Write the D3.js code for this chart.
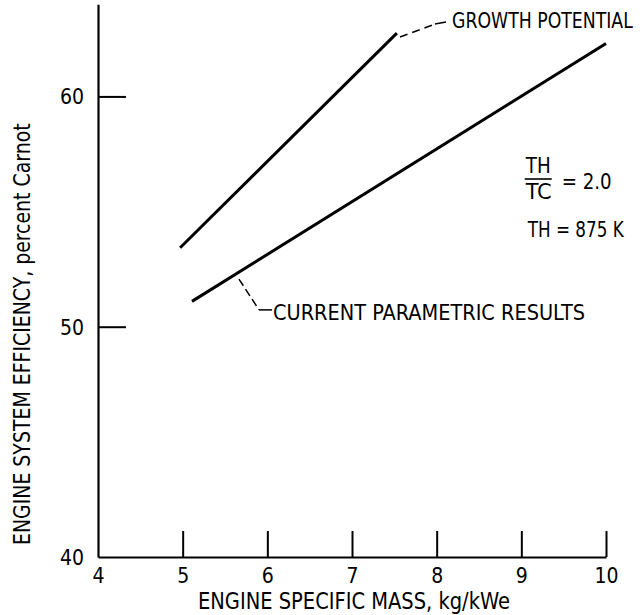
<!DOCTYPE html>
<html>
<head>
<meta charset="utf-8">
<script src="https://cdn.jsdelivr.net/npm/d3@7"></script>
<style>
  html, body { margin: 0; padding: 0; background: #fff; }
  svg { display: block; }
  text { font-family: "Liberation Sans Narrow", "DejaVu Sans Condensed", "Arial Narrow", sans-serif; fill: #000; }
</style>
</head>
<body>
<svg id="chart" width="640" height="615"></svg>
<script>
// ---- data ----
const xTicks = [4, 5, 6, 7, 8, 9, 10];
const yTicks = [40, 50, 60];
const growthMass = [4.97, 7.53];
const growthEff = [53.43, 62.75];
const currentMass = [5.11, 10.0];
const currentEff = [51.1, 62.3];
const xTitle = "ENGINE SPECIFIC MASS, kg/kWe";
const yTitle = "ENGINE SYSTEM EFFICIENCY, percent Carnot";
const growthLabel = "GROWTH POTENTIAL";
const currentLabel = "CURRENT PARAMETRIC RESULTS";

// ---- scales ----
const svg = d3.select("#chart");
const sx = d3.scaleLinear().domain([4, 10]).range([98, 606]);
const sy = d3.scaleLinear().domain([40, 64]).range([557, 4.3]);

// ---- axes ----
const xAxis = d3.axisBottom(sx).tickValues(xTicks).tickSize(-26).tickSizeOuter(0).tickPadding(11).tickFormat(d3.format("d"));
const yAxis = d3.axisLeft(sy).tickValues(yTicks).tickSize(-28).tickSizeOuter(0).tickPadding(14).tickFormat(d3.format("d"));

const gx = svg.append("g").attr("transform", `translate(0,${sy(40)})`).call(xAxis);
const gy = svg.append("g").attr("transform", `translate(${sx(4)},0)`).call(yAxis);
[gx, gy].forEach(g => {
  g.select(".domain").attr("stroke", "#000").attr("stroke-width", 2.2);
  g.selectAll(".tick line").attr("stroke", "#000").attr("stroke-width", 2);
  g.selectAll(".tick text").attr("font-size", 21).attr("font-family", null).attr("fill", "#000");
});
gy.selectAll(".tick text").attr("dy", "0.36em");
gy.selectAll(".tick").filter(d => d === 40).select("line").remove();
gx.selectAll(".tick").filter(d => d === 4).select("line").remove();

// horizontally squeezed text helper: fits natural width into target width
function fitText(parent, str, x, y, size, width) {
  const g = parent.append("g").attr("transform", `translate(${x},${y})`);
  const t = g.append("text").attr("x", 0).attr("y", 0).attr("font-size", size).text(str);
  const w = t.node().getComputedTextLength();
  t.attr("transform", `scale(${width / w},1)`);
  return g;
}

// axis titles
fitText(svg, xTitle, 198, 609, 23, 312);
const yt = svg.append("g").attr("transform", "translate(30,545) rotate(-90)");
fitText(yt, yTitle, 0, 0, 23, 422);

// ---- curves ----
const line = d3.line().x(d => sx(d[0])).y(d => sy(d[1]));
const growth = d3.zip(growthMass, growthEff);
const current = d3.zip(currentMass, currentEff);
[growth, current].forEach(pts => {
  svg.append("path").datum(pts)
    .attr("d", line)
    .attr("fill", "none").attr("stroke", "#000").attr("stroke-width", 3);
});

// ---- annotations (anchored in data units) ----
const gLeadDash = [[7.567, 62.58], [7.98, 63.14]];
const gLeadSolid = [[7.98, 63.14], [8.11, 63.23]];
svg.append("path").datum(gLeadDash).attr("d", line)
  .attr("fill", "none").attr("stroke", "#000").attr("stroke-width", 1.5).attr("stroke-dasharray", "8,5");
svg.append("path").datum(gLeadSolid).attr("d", line)
  .attr("fill", "none").attr("stroke", "#000").attr("stroke-width", 1.5);
fitText(svg, growthLabel, sx(8.181), sy(62.97), 21, 181);

const cLeadDash = [[5.665, 52.07], [5.902, 50.73]];
const cLeadSolid = [[5.902, 50.73], [6.055, 50.73]];
svg.append("path").datum(cLeadDash).attr("d", line)
  .attr("fill", "none").attr("stroke", "#000").attr("stroke-width", 1.5).attr("stroke-dasharray", "8,4");
svg.append("path").datum(cLeadSolid).attr("d", line)
  .attr("fill", "none").attr("stroke", "#000").attr("stroke-width", 1.5);
fitText(svg, currentLabel, sx(6.067), sy(50.29), 22, 312);

// TH/TC = 2.0 block
const ax = sx(9.04), ay = sy(58.5);   // anchor
const blk = svg.append("g").attr("transform", `translate(${ax},${ay})`);
const by = 179 - ay; // fraction bar offset relative to anchor
fitText(blk, "TH", 1, by - 6, 22, 25);
blk.append("line").attr("x1", 0).attr("x2", 27).attr("y1", by).attr("y2", by)
  .attr("stroke", "#000").attr("stroke-width", 1.6);
fitText(blk, "TC", 1, by + 20, 22, 26);
fitText(blk, "= 2.0", 37, by + 10, 21, 50);
fitText(blk, "TH = 875 K", 3, by + 58, 21.5, 96);
</script>
</body>
</html>
